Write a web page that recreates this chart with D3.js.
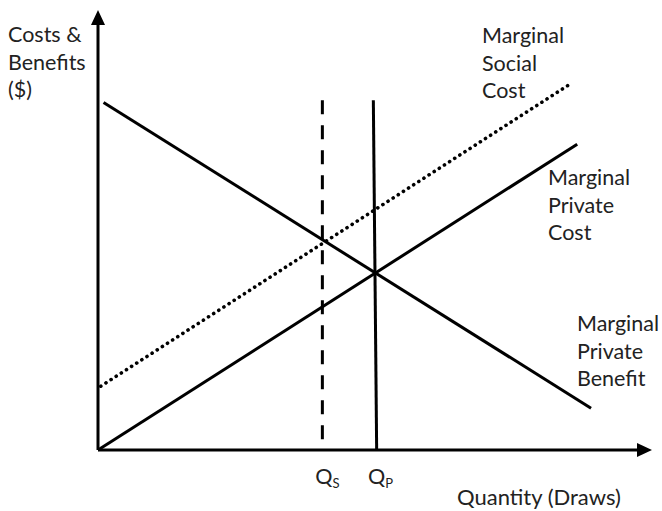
<!DOCTYPE html>
<html>
<head>
<meta charset="utf-8">
<script src="https://cdn.jsdelivr.net/npm/d3@7"></script>
<style>
  body { margin: 0; background: #fff; }
  text { font-family: Lato, "Open Sans", sans-serif; fill: #222; }
</style>
</head>
<body>
<div id="chart"></div>
<script>
// curve end points, in (quantity, $) units
var mpb = [[0.1, 7.9], [8.9, 0.95]];
var mpc = [[0, 0], [8.65, 6.95]];
var msc = [[0.05, 1.45], [8.5, 8.3]];
var qsLine = [[4.05, 7.95], [4.05, 0]];
var qpLine = [[4.97, 7.95], [5.03, 0]];

var yTitle = ["Costs &", "Benefits", "($)"];
var xTitle = "Quantity (Draws)";
var mscLabel = ["Marginal", "Social", "Cost"];
var mpcLabel = ["Marginal", "Private", "Cost"];
var mpbLabel = ["Marginal", "Private", "Benefit"];
var qLabels = [{ q: 4.05, sub: "S" }, { q: 5.0, sub: "P" }];

var width = 662, height = 511;
var lineStyle = 'fill: none; stroke: #000; stroke-width: 3;';
var fontSize = 21.5;

var svg = d3.select("#chart").append("svg")
    .attr("width", width)
    .attr("height", height);

var x = d3.scaleLinear().domain([0, 10]).range([98, 652]);
var y = d3.scaleLinear().domain([0, 10]).range([450, 10]);

var line = d3.line()
    .x(function (d) { return x(d[0]) })
    .y(function (d) { return y(d[1]) });

// axes with arrow heads
var arrowLen = 15, arrowHalf = 7;
svg.append("path")
    .attr("d", "M" + x(0) + "," + y(0) + "L" + x(0) + "," + (y(10) + arrowLen))
    .attr("style", lineStyle);
svg.append("path")
    .attr("d", "M" + x(0) + "," + y(0) + "L" + (x(10) - arrowLen) + "," + y(0))
    .attr("style", lineStyle);
svg.append("path")
    .attr("d", `M${x(0)},${y(10)} L${x(0) - arrowHalf},${y(10) + arrowLen} L${x(0) + arrowHalf},${y(10) + arrowLen} Z`)
    .attr("fill", "#000");
svg.append("path")
    .attr("d", `M${x(10)},${y(0)} L${x(10) - arrowLen},${y(0) - arrowHalf} L${x(10) - arrowLen},${y(0) + arrowHalf} Z`)
    .attr("fill", "#000");

// curves
svg.append("path").datum(mpb).attr("d", line).attr("style", lineStyle);
svg.append("path").datum(mpc).attr("d", line).attr("style", lineStyle);
svg.append("path").datum(msc).attr("d", line)
    .attr("style", 'fill: none; stroke: #000; stroke-width: 3.6; stroke-linecap: round; stroke-dasharray: 0.1 6;');
svg.append("path").datum(qsLine).attr("d", line)
    .attr("style", lineStyle + ' stroke-dasharray: 14 11;');
svg.append("path").datum(qpLine).attr("d", line).attr("style", lineStyle);

// multi-line labels
function label(lines, lx, ly) {
    var t = svg.append("text").attr("font-size", fontSize);
    lines.forEach(function (s, i) {
        t.append("tspan").attr("x", lx).attr("y", ly + i * 27.5).text(s);
    });
}
label(yTitle, 8, 42);
label(mscLabel, 482, 43);
label(mpcLabel, 548, 185);
label(mpbLabel, 577, 331);

svg.append("text")
    .attr("x", 457).attr("y", 505)
    .attr("font-size", 22)
    .text(xTitle);

// Q labels under the axis
qLabels.forEach(function (d) {
    var t = svg.append("text")
        .attr("x", x(d.q) - 7).attr("y", 484)
        .attr("font-size", fontSize);
    t.append("tspan").text("Q");
    t.append("tspan").attr("font-size", 13).attr("dy", 4).text(d.sub);
});
</script>
</body>
</html>
